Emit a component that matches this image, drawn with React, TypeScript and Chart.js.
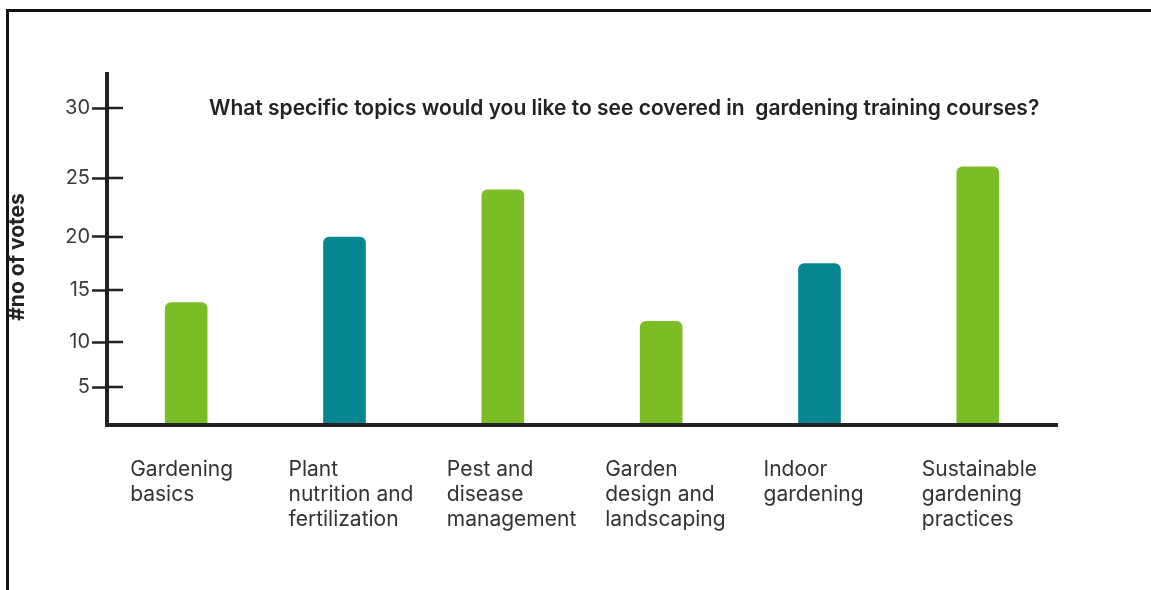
import React, { useEffect, useRef } from "react";
import { Chart, registerables, LinearScale } from "chart.js";

// ---------- data ----------
const CATEGORIES: string[][] = [
  ["Gardening", "basics"],
  ["Plant", "nutrition and", "fertilization"],
  ["Pest and", "disease", "management"],
  ["Garden", "design and", "landscaping"],
  ["Indoor", "gardening"],
  ["Sustainable", "gardening", "practices"],
];
const VOTES: number[] = [13.8, 20, 24, 12, 17.5, 25.8];
const Y_TICKS: number[] = [5, 10, 15, 20, 25, 30];
const TITLE = "What specific topics would you like to see covered in  gardening training courses?";
const Y_TITLE = "#no of votes";

// ---------- style ----------
const GREEN = "#7bbd26";
const TEAL = "#058690";
const BAR_COLORS = [GREEN, TEAL, GREEN, GREEN, TEAL, GREEN];
const FONT = "Inter, 'Noto Sans', sans-serif";

// The hand-drawn value axis is not evenly spaced: knots of value -> fraction of axis height
const KNOT_VALUES = [0, 5, 10, 15, 20, 25, 30, 32.6];
const KNOT_FRACS = [0, 0.1076, 0.2351, 0.3824, 0.5326, 0.6997, 0.898, 1];

function valueToDecimal(v: number): number {
  if (v <= KNOT_VALUES[0]) return 0;
  for (let i = 1; i < KNOT_VALUES.length; i++) {
    if (v <= KNOT_VALUES[i]) {
      const t = (v - KNOT_VALUES[i - 1]) / (KNOT_VALUES[i] - KNOT_VALUES[i - 1]);
      return KNOT_FRACS[i - 1] + t * (KNOT_FRACS[i] - KNOT_FRACS[i - 1]);
    }
  }
  return 1;
}
function decimalToValue(d: number): number {
  if (d <= 0) return KNOT_VALUES[0];
  for (let i = 1; i < KNOT_FRACS.length; i++) {
    if (d <= KNOT_FRACS[i]) {
      const t = (d - KNOT_FRACS[i - 1]) / (KNOT_FRACS[i] - KNOT_FRACS[i - 1]);
      return KNOT_VALUES[i - 1] + t * (KNOT_VALUES[i] - KNOT_VALUES[i - 1]);
    }
  }
  return KNOT_VALUES[KNOT_VALUES.length - 1];
}

class PiecewiseScale extends LinearScale {
  static id = "piecewise";
  static defaults = (LinearScale as any).defaults;
  getPixelForValue(value: number) {
    return (this as any).getPixelForDecimal(valueToDecimal(value));
  }
  getValueForPixel(pixel: number) {
    return decimalToValue((this as any).getDecimalForPixel(pixel));
  }
}

Chart.register(...registerables, PiecewiseScale as any);

const decorPlugin = {
  id: "decor",
  afterDraw(chart: any) {
    const { ctx, chartArea, scales } = chart;
    const { left, right, top, bottom } = chartArea;
    ctx.save();
    // axes
    ctx.strokeStyle = "#222";
    ctx.lineWidth = 4;
    ctx.beginPath();
    ctx.moveTo(left, top);
    ctx.lineTo(left, bottom + 2);
    ctx.moveTo(left - 2, bottom);
    ctx.lineTo(right + 1, bottom);
    ctx.stroke();
    // inner part of tick marks
    const y = scales.y;
    ctx.lineWidth = 2.5;
    ctx.beginPath();
    y.ticks.forEach((_t: any, i: number) => {
      const py = y.getPixelForTick(i);
      ctx.moveTo(left, py);
      ctx.lineTo(left + 16, py);
    });
    ctx.stroke();
    // title
    ctx.fillStyle = "#222";
    ctx.font = `600 21px ${FONT}`;
    ctx.textAlign = "left";
    ctx.textBaseline = "middle";
    ctx.fillText(TITLE, 209, 109);
    // y title
    ctx.save();
    ctx.translate(18, 257);
    ctx.rotate(-Math.PI / 2);
    ctx.textAlign = "center";
    ctx.font = `700 21px ${FONT}`;
    ctx.fillText(Y_TITLE, 0, 0);
    ctx.restore();
    // category labels (left-aligned multi-line)
    const x = scales.x;
    ctx.fillStyle = "#333";
    ctx.font = `400 21px ${FONT}`;
    ctx.textAlign = "left";
    ctx.textBaseline = "top";
    CATEGORIES.forEach((lines, i) => {
      const px = x.getPixelForValue(i) - 56;
      lines.forEach((line, j) => {
        ctx.fillText(line, px, 459 + j * 25);
      });
    });
    ctx.restore();
  },
};

export default function App() {
  const canvasRef = useRef<HTMLCanvasElement | null>(null);

  useEffect(() => {
    if (!canvasRef.current) return;
    const chart = new Chart(canvasRef.current, {
      type: "bar",
      data: {
        labels: CATEGORIES.map((l) => l.join(" ")),
        datasets: [
          {
            data: VOTES,
            backgroundColor: BAR_COLORS,
            barThickness: 42,
            borderRadius: { topLeft: 6, topRight: 6, bottomLeft: 0, bottomRight: 0 },
            borderSkipped: "bottom",
          },
        ],
      },
      options: {
        animation: false,
        responsive: false,
        layout: { padding: { left: 0, right: 94, top: 72, bottom: 165 } },
        plugins: { legend: { display: false }, tooltip: { enabled: false }, title: { display: false } },
        scales: {
          x: {
            type: "category",
            offset: true,
            ticks: { display: false },
            grid: { display: false },
            border: { display: false },
            afterFit: (s: any) => {
              s.height = 0;
            },
          },
          y: {
            type: "piecewise" as any,
            min: 0,
            max: 32.6,
            afterBuildTicks: (s: any) => {
              s.ticks = Y_TICKS.map((v) => ({ value: v }));
            },
            afterFit: (s: any) => {
              s.width = 107;
            },
            ticks: {
              font: { family: FONT, size: 20 },
              color: "#3a3a3a",
              padding: 2,
              callback: (v: any) => String(v),
            },
            grid: {
              display: true,
              drawOnChartArea: false,
              drawTicks: true,
              tickLength: 15,
              tickColor: "#222",
              tickWidth: 2.5,
            },
            border: { display: false },
          },
        } as any,
      },
      plugins: [decorPlugin],
    });
    return () => chart.destroy();
  }, []);

  return (
    <div style={{ position: "fixed", left: 0, top: 0, width: 1151, height: 590, background: "#fff", overflow: "hidden" }}>
      <div
        style={{
          position: "absolute",
          left: 6,
          top: 9,
          width: 1200,
          height: 700,
          borderLeft: "3px solid #111",
          borderTop: "3px solid #111",
        }}
      />
      <canvas ref={canvasRef} width={1151} height={590} style={{ position: "absolute", left: 0, top: 0 }} />
    </div>
  );
}
